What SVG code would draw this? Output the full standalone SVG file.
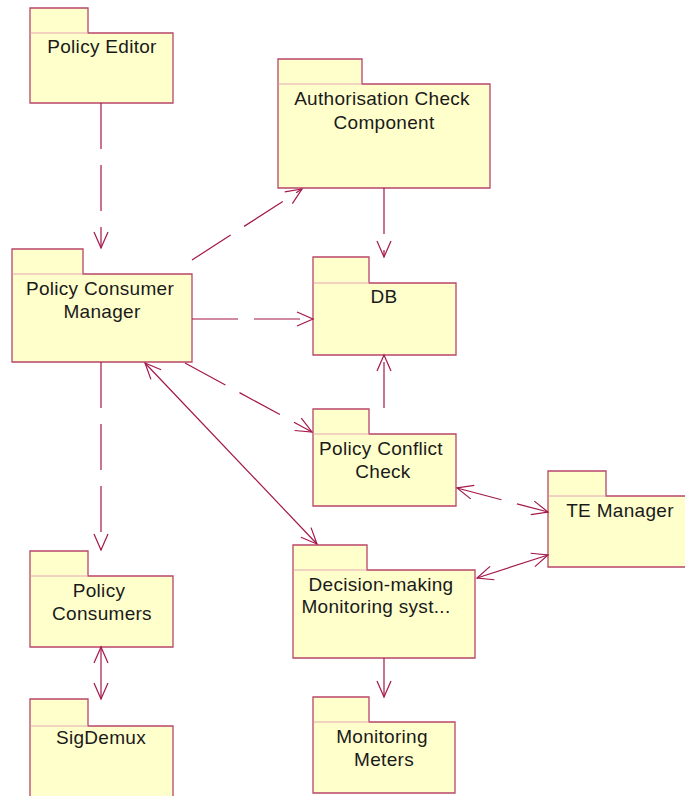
<svg xmlns="http://www.w3.org/2000/svg" width="685" height="796" viewBox="0 0 685 796">
  <style>
    .pkg { fill: #FFFFCC; stroke: #B8456A; stroke-width: 1.3; }
    .sep { stroke: #E2A6B4; stroke-width: 1; }
    .lbl { font-family: "Liberation Sans", Arial, sans-serif; font-size: 19px; letter-spacing: 0.3px; fill: #1a1a1a; text-anchor: middle; }
    .dep { fill: none; stroke: #A3174A; stroke-width: 1.2; stroke-dasharray: 46 16; }
    .assoc { fill: none; stroke: #A3174A; stroke-width: 1.2; }
  </style>
  <defs>
    <marker id="open" markerUnits="userSpaceOnUse" markerWidth="20" markerHeight="18" viewBox="-18 -9 20 18" refX="0" refY="0" orient="auto-start-reverse">
      <path d="M-16,-7 L0,0 L-16,7" fill="none" stroke="#A3174A" stroke-width="1.2" stroke-dasharray="none"/>
    </marker>
  </defs>

  <rect width="685" height="796" fill="#FFFFFF"/>

  <!-- packages -->
  <g id="policy-editor">
    <path class="pkg" d="M30,8 H88 V33 H173 V103 H30 Z"/>
    <line class="sep" x1="30.5" y1="33" x2="88" y2="33"/>
    <text class="lbl" x="102" y="53">Policy Editor</text>
  </g>

  <g id="authorisation-check">
    <path class="pkg" d="M278,59 H362 V84 H490 V188 H278 Z"/>
    <line class="sep" x1="278.5" y1="84" x2="362" y2="84"/>
    <text class="lbl" x="382" y="105">Authorisation Check</text>
    <text class="lbl" x="384" y="129">Component</text>
  </g>

  <g id="policy-consumer-manager">
    <path class="pkg" d="M12,249 H83 V274 H192 V362 H12 Z"/>
    <line class="sep" x1="12.5" y1="274" x2="83" y2="274"/>
    <text class="lbl" x="100" y="295">Policy Consumer</text>
    <text class="lbl" x="102" y="318">Manager</text>
  </g>

  <g id="db">
    <path class="pkg" d="M313,257 H369 V283 H456 V355 H313 Z"/>
    <line class="sep" x1="313.5" y1="283" x2="369" y2="283"/>
    <text class="lbl" x="384" y="303">DB</text>
  </g>

  <g id="policy-conflict-check">
    <path class="pkg" d="M313,409 H369 V434 H456 V506 H313 Z"/>
    <line class="sep" x1="313.5" y1="434" x2="369" y2="434"/>
    <text class="lbl" x="381" y="455">Policy Conflict</text>
    <text class="lbl" x="383" y="478">Check</text>
  </g>

  <g id="te-manager">
    <path class="pkg" d="M548,471 H606 V496 H692 V567 H548 Z"/>
    <line class="sep" x1="548.5" y1="496" x2="606" y2="496"/>
    <text class="lbl" x="620" y="517">TE Manager</text>
  </g>

  <g id="decision-making">
    <path class="pkg" d="M293,545 H367 V570 H475 V658 H293 Z"/>
    <line class="sep" x1="293.5" y1="570" x2="367" y2="570"/>
    <text class="lbl" x="381" y="591">Decision-making</text>
    <text class="lbl" x="376" y="613">Monitoring syst...</text>
  </g>

  <g id="policy-consumers">
    <path class="pkg" d="M30,551 H88 V576 H173 V647 H30 Z"/>
    <line class="sep" x1="30.5" y1="576" x2="88" y2="576"/>
    <text class="lbl" x="99" y="597">Policy</text>
    <text class="lbl" x="102" y="620">Consumers</text>
  </g>

  <g id="sigdemux">
    <path class="pkg" d="M30,699 H88 V726 H173 V800 H30 Z"/>
    <line class="sep" x1="30.5" y1="726" x2="88" y2="726"/>
    <text class="lbl" x="101" y="744">SigDemux</text>
  </g>

  <g id="monitoring-meters">
    <path class="pkg" d="M313,697 H369 V722 H455 V793 H313 Z"/>
    <line class="sep" x1="313.5" y1="722" x2="369" y2="722"/>
    <text class="lbl" x="382" y="743">Monitoring</text>
    <text class="lbl" x="384" y="766">Meters</text>
  </g>

  <!-- connectors -->
  <g id="connectors">
    <path class="dep" d="M101,103 V248" marker-end="url(#open)"/>
    <path class="dep" d="M192,260 L302,189" marker-end="url(#open)"/>
    <path class="dep" d="M384,188 V257" marker-end="url(#open)"/>
    <path class="dep" d="M192,319 H313" marker-end="url(#open)"/>
    <path class="dep" d="M185,363 L312,432" marker-end="url(#open)"/>
    <path class="dep" d="M384,408 V355" marker-end="url(#open)"/>
    <path class="dep" d="M101,362 V550" marker-end="url(#open)"/>
    <path class="dep" d="M457,488 L548,512" marker-start="url(#open)" marker-end="url(#open)"/>
    <path class="assoc" d="M145,363 L317,544" marker-start="url(#open)" marker-end="url(#open)"/>
    <path class="assoc" d="M477,578 L548,555" marker-start="url(#open)" marker-end="url(#open)"/>
    <path class="assoc" d="M384,658 V697" marker-end="url(#open)"/>
    <path class="assoc" d="M101,647 V699" marker-start="url(#open)" marker-end="url(#open)"/>
  </g>
</svg>
